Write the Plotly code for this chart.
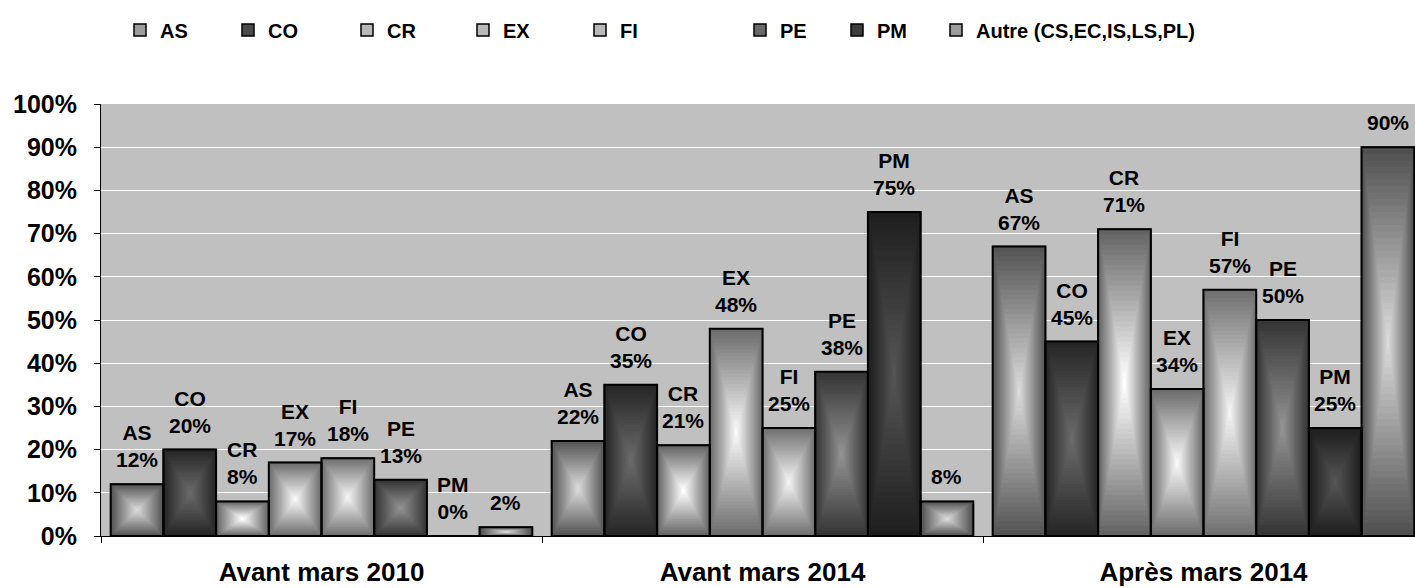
import plotly.graph_objects as go

# ---- data (percent) ----
categories = ["Avant mars 2010", "Avant mars 2014", "Après mars 2014"]
series_names = ["AS", "CO", "CR", "EX", "FI", "PE", "PM", "Autre (CS,EC,IS,LS,PL)"]
short_labels = ["AS", "CO", "CR", "EX", "FI", "PE", "PM", ""]
AS = [12, 22, 67]
CO = [20, 35, 45]
CR = [8, 21, 71]
EX = [17, 48, 34]
FI = [18, 25, 57]
PE = [13, 38, 50]
PM = [0, 75, 25]
AUTRE = [2, 8, 90]
series_values = [AS, CO, CR, EX, FI, PE, PM, AUTRE]

# edge / centre colours of each series' "from centre" gradient
edge_colors = ["#545454", "#262626", "#646464", "#6c6c6c", "#707070", "#353535", "#1e1e1e", "#505050"]
center_colors = ["#dadada", "#6a6a6a", "#ffffff", "#f8f8f8", "#f3f3f3", "#929292", "#555555", "#dadada"]
legend_px = [134, 242, 361, 477, 594, 754, 851, 950]

FONT = "Arial, 'Liberation Sans', sans-serif"
W, H = 1415, 588
ML, MR, MT, MB = 101, 0, 104, 52
PLOT_W = W - ML - MR

N_LAYERS = 30
GROUP = 0.956
BW = GROUP / len(series_names)


def hex_to_rgb(h):
    h = h.lstrip("#")
    return tuple(int(h[i:i + 2], 16) for i in (0, 2, 4))


def mix(c1, c2, f):
    a, b = hex_to_rgb(c1), hex_to_rgb(c2)
    return "rgb({},{},{})".format(*[round(a[i] + (b[i] - a[i]) * f) for i in range(3)])


fig = go.Figure()
fracs = [[v / 100 for v in vals] for vals in series_values]

# legend entries (hidden underneath the gradient layers)
for s, name in enumerate(series_names):
    off = -GROUP / 2 + s * BW
    fig.add_trace(go.Bar(
        x=categories, y=fracs[s], width=BW, offset=off,
        name=name, legend="legend" if s == 0 else f"legend{s + 1}",
        marker=dict(color=mix(edge_colors[s], center_colors[s], 0.55),
                    line=dict(color="black", width=1.5)),
        hoverinfo="skip", showlegend=True,
    ))

# gradient: nested rectangles shrinking towards the bar centre
for s, name in enumerate(series_names):
    off = -GROUP / 2 + s * BW
    for k in range(N_LAYERS):
        t = k / N_LAYERS
        f = k / (N_LAYERS - 1)
        fig.add_trace(go.Bar(
            x=categories,
            y=[v * (1 - t) for v in fracs[s]],
            base=[v * t / 2 for v in fracs[s]],
            width=BW * (1 - t), offset=off + BW * t / 2,
            marker=dict(color=mix(edge_colors[s], center_colors[s], f), line=dict(width=0)),
            hoverinfo="skip", showlegend=False,
        ))

# black outlines on top
for s, name in enumerate(series_names):
    off = -GROUP / 2 + s * BW
    fig.add_trace(go.Bar(
        x=categories, y=fracs[s], width=BW, offset=off,
        marker=dict(color="rgba(0,0,0,0)", line=dict(color="black", width=2)),
        hoverinfo="text", hovertext=[f"{name}: {v:.0%}" for v in fracs[s]],
        showlegend=False,
    ))

# value labels above the bars
annotations = []
for s in range(len(series_names)):
    off = -GROUP / 2 + s * BW
    for i, v in enumerate(fracs[s]):
        txt = f"{v:.0%}" if not short_labels[s] else f"{short_labels[s]}<br>{v:.0%}"
        annotations.append(dict(
            x=i + off + BW / 2, y=v, xref="x", yref="y",
            text=txt, showarrow=False, yanchor="bottom", yshift=11,
            font=dict(family=FONT, size=21, color="black", weight="bold"),
        ))

legends = {}
for s in range(len(series_names)):
    key = "legend" if s == 0 else f"legend{s + 1}"
    legends[key] = dict(
        x=(legend_px[s] - ML - 14) / PLOT_W, xanchor="left",
        y=(H - MB - 30) / (H - MT - MB), yanchor="middle",
        orientation="h", bgcolor="rgba(0,0,0,0)", borderwidth=0,
        font=dict(family=FONT, size=20, color="black", weight="bold"),
        itemwidth=30, itemclick=False, itemdoubleclick=False,
    )

fig.update_layout(
    width=W, height=H,
    margin=dict(l=ML, r=MR, t=MT, b=MB),
    paper_bgcolor="white", plot_bgcolor="#c0c0c0",
    barmode="overlay",
    annotations=annotations,
    showlegend=True,
    **legends,
)

fig.update_xaxes(
    type="category", range=[-0.5, 2.5 - 9 / 441],
    showline=True, linecolor="black", linewidth=1,
    ticks="outside", tickson="boundaries", ticklen=6, tickcolor="black",
    showgrid=False, ticklabelstandoff=13,
    tickfont=dict(family=FONT, size=26, color="black", weight="bold"),
)
fig.update_yaxes(
    range=[0, 1], dtick=0.1, tickformat=".0%",
    showline=True, linecolor="black", linewidth=1,
    ticks="outside", ticklen=6, tickcolor="black",
    showgrid=True, gridcolor="white", gridwidth=1, zeroline=False,
    ticklabelstandoff=12,
    tickfont=dict(family=FONT, size=25, color="black", weight="bold"),
)

fig.write_html("out.html")
